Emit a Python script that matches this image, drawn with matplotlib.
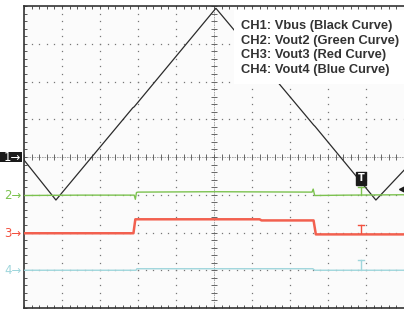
import matplotlib.pyplot as plt
import matplotlib.patches as patches
import numpy as np

# trace data, in screen divisions (x: 0..10, y: -4..4)
ch1_x = [0.0, 0.84, 2.86, 2.90, 5.05, 7.62, 7.66, 9.26, 10.0]
ch1_y = [-0.08, -1.14, 1.30, 1.33, 3.94, 0.85, 0.81, -1.14, -0.35]

ch2_x = [0.0, 1.5, 2.90, 2.93, 2.96, 3.0, 5.0, 7.58, 7.61, 7.65, 8.5, 10.0]
ch2_y = [-1.02, -1.01, -1.01, -1.12, -0.94, -0.93, -0.92, -0.93, -0.85, -1.02, -1.01, -1.00]

ch3_x = [0.0, 2.88, 2.93, 6.2, 6.25, 7.62, 7.68, 10.0]
ch3_y = [-2.02, -2.02, -1.65, -1.65, -1.68, -1.68, -2.05, -2.05]

ch4_x = [0.0, 2.95, 2.97, 7.6, 7.65, 10.0]
ch4_y = [-3.0, -3.0, -2.96, -2.96, -3.0, -3.0]

ch_offsets = [0.0, -1.01, -2.02, -3.0]
ch_labels = ["1", "2", "3", "4"]
ch_colors = ["#2b2b2b", "#7cc24f", "#f2503f", "#9fd6dc"]

trig_x = 8.87
trig_tops = [-0.80, -1.81, -2.74]
trig_bottoms = [-1.01, -2.02, -3.0]

legend_lines = ["CH1: Vbus (Black Curve)", "CH2: Vout2 (Green Curve)",
                "CH3: Vout3 (Red Curve)", "CH4: Vout4 (Blue Curve)"]

fig = plt.figure(figsize=(4.04, 3.12), dpi=100)
ax = fig.add_axes([24/404, 4/312, 380/404, 302/312])
ax.set_facecolor("#fbfbfb")
ax.set_xlim(0, 10)
ax.set_ylim(-4, 4)

# graticule dots
dots = np.arange(0, 10.001, 0.2)
yy = np.arange(-4, 4.001, 0.2)
for gx in [1, 2, 3, 4, 6, 7, 8, 9]:
    ax.plot(np.full_like(yy, gx), yy, "s", color="#777777", ms=0.9, mew=0, zorder=1)
for gy in [-3, -2, -1, 1, 2, 3]:
    ax.plot(dots, np.full_like(dots, gy), "s", color="#777777", ms=0.9, mew=0, zorder=1)

# center cross with ticks
ax.axhline(0, color="#999999", lw=0.6, ls=(0, (2, 1)), zorder=1)
ax.axvline(5, color="#999999", lw=0.6, ls=(0, (2, 1)), zorder=1)
ax.plot(dots, np.zeros_like(dots), "|", color="#666666", ms=4, mew=0.7, zorder=1)
ax.plot(np.full_like(yy, 5), yy, "_", color="#666666", ms=4, mew=0.7, zorder=1)

# traces
ax.plot(ch1_x, ch1_y, color="#2b2b2b", lw=0.9, zorder=3)
ax.plot(ch2_x, ch2_y, color="#7cc24f", lw=1.0, zorder=3)
ax.plot(ch3_x, ch3_y, color="#f2604f", lw=1.8, zorder=3)
ax.plot(ch4_x, ch4_y, color="#9fd6dc", lw=1.0, zorder=3)

# trigger markers
for top, bot, col in zip(trig_tops, trig_bottoms, ch_colors[1:]):
    ax.plot([trig_x, trig_x], [bot, top], color=col, lw=1.0, zorder=4)
    ax.plot([trig_x - 0.09, trig_x + 0.09], [top, top], color=col, lw=1.0, zorder=4)
ax.text(trig_x, -0.56, "T", color="white", fontsize=7, fontweight="bold",
        ha="center", va="center", zorder=6,
        bbox=dict(boxstyle="square,pad=0.15", fc="#1a1a1a", ec="#1a1a1a"))
ax.plot([9.96], [-0.85], marker="<", color="#1a1a1a", ms=5, clip_on=False, zorder=6)

# channel labels on the left
ax.add_patch(patches.Rectangle((-0.63, -0.14), 0.58, 0.27, fc="#1a1a1a",
                               ec="none", clip_on=False, zorder=6))
for lab, off, col in zip(ch_labels, ch_offsets, ch_colors):
    tc = "white" if lab == "1" else col
    ax.text(-0.07, off, lab + "\u2192", color=tc, fontsize=8.5,
            family="DejaVu Sans",
            ha="right", va="center", clip_on=False, zorder=7)

# legend box
ax.add_patch(patches.Rectangle((5.53, 1.93), 4.5, 1.96, fc="white", ec="none", zorder=5))
for i, line in enumerate(legend_lines):
    ax.text(5.71, 3.47 - i * 0.385, line, color="#333333", fontsize=9.3,
            fontweight="bold", family="Liberation Sans", ha="left", va="center", zorder=6)

for s in ["left", "bottom", "top"]:
    ax.spines[s].set_color("#333333")
    ax.spines[s].set_linewidth(1.2)
ax.spines["right"].set_visible(False)

ax.set_xticks(np.arange(0, 10.01, 1))
ax.set_xticks(dots, minor=True)
ax.set_yticks(np.arange(-4, 4.01, 1))
ax.set_yticks(yy, minor=True)
ax.tick_params(which="both", direction="in", length=2.5, width=0.7, color="#555555",
               top=True, bottom=True, left=True, right=False,
               labelbottom=False, labelleft=False)

fig.savefig("out.png", dpi=100)
